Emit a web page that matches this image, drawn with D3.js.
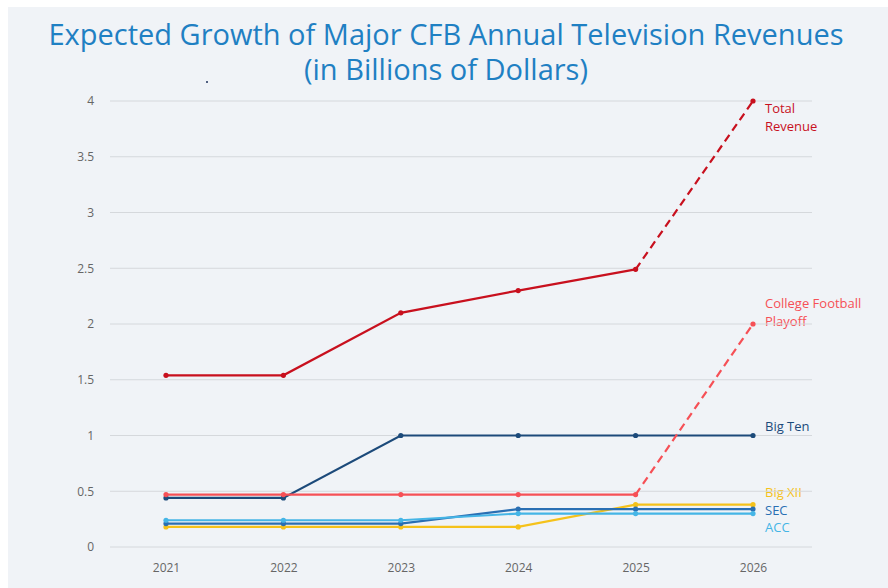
<!DOCTYPE html>
<html>
<head>
<meta charset="utf-8">
<script src="https://cdn.jsdelivr.net/npm/d3@7"></script>
<style>
  body { margin: 0; background: #fff; }
  svg { display: block; font-family: "Open Sans", "Noto Sans", sans-serif; }
</style>
</head>
<body>
<div class="chart"></div>
<script>
// data
var years = [2021, 2022, 2023, 2024, 2025, 2026];
var yTicks = [0, 0.5, 1, 1.5, 2, 2.5, 3, 3.5, 4];

var totalRevenue = [1.54, 1.54, 2.10, 2.30, 2.49, 4.0];
var collegePlayoff = [0.47, 0.47, 0.47, 0.47, 0.47, 2.0];
var bigTen = [0.44, 0.44, 1.0, 1.0, 1.0, 1.0];
var bigXII = [0.18, 0.18, 0.18, 0.18, 0.38, 0.38];
var sec = [0.21, 0.21, 0.21, 0.34, 0.34, 0.34];
var acc = [0.24, 0.24, 0.24, 0.30, 0.30, 0.30];

var series = [
    {name: ["Total", "Revenue"], values: totalRevenue, color: "#c8101e", dashLast: true},
    {name: ["College Football", "Playoff"], values: collegePlayoff, color: "#f65056", dashLast: true},
    {name: ["Big Ten"], values: bigTen, color: "#1c4a7a", dashLast: false},
    {name: ["ACC"], values: acc, color: "#45b5e6", dashLast: false},
    {name: ["SEC"], values: sec, color: "#2a6fb3", dashLast: false},
    {name: ["Big XII"], values: bigXII, color: "#f5c21b", dashLast: false}
];

// label offsets from the last point
var labelDy = {"Total": 12, "College Football": -16, "Big Ten": -5, "ACC": 18, "SEC": 6, "Big XII": -8};

var svgWidth = 888, svgHeight = 588;
var margin = {top: 101, right: 76, bottom: 41, left: 110};
var width = svgWidth - margin.left - margin.right;
var height = svgHeight - margin.top - margin.bottom;

var svg = d3.select(".chart").append("svg")
    .attr("width", svgWidth)
    .attr("height", svgHeight);

// panel background
svg.append("rect")
    .attr("x", 8).attr("y", 7)
    .attr("width", svgWidth - 8).attr("height", svgHeight - 7)
    .attr("fill", "#f0f3f7");

// title
var title = svg.append("text")
    .attr("text-anchor", "middle")
    .attr("fill", "#1f80c3")
    .style("font-size", "29px");
title.append("tspan").attr("x", 446).attr("y", 45).text("Expected Growth of Major CFB Annual Television Revenues");
title.append("tspan").attr("x", 446).attr("y", 80).text("(in Billions of Dollars)");

// stray dot
svg.append("circle").attr("cx", 207).attr("cy", 82).attr("r", 1).attr("fill", "#1c2f5a");

var chart = svg.append("g")
    .attr("transform", "translate(" + margin.left + "," + margin.top + ")");

var x = d3.scalePoint().domain(years).range([56, 643]);
var y = d3.scaleLinear().domain([0, 4]).range([height, 0]);

// end labels
series.forEach(function(s) {
    var last = s.values.length - 1;
    var t = chart.append("text")
        .attr("fill", s.color)
        .style("font-size", "13px");
    s.name.forEach(function(line, i) {
        t.append("tspan")
            .attr("x", x(years[last]) + 12)
            .attr("y", y(s.values[last]) + labelDy[s.name[0]] + i * 18)
            .text(line);
    });
});

// gridlines
chart.append("g")
    .selectAll("line")
    .data(yTicks)
    .enter().append("line")
    .attr("x1", 0).attr("x2", width)
    .attr("y1", function(d) { return y(d); })
    .attr("y2", function(d) { return y(d); })
    .attr("stroke", "#d5d8dc")
    .attr("stroke-width", 1);

// y axis labels
var leftAxis = d3.axisLeft(y).tickValues(yTicks).tickSize(0).tickPadding(16)
    .tickFormat(function(d) { return d; });
var yAxis = chart.append("g").call(leftAxis);
yAxis.select(".domain").remove();
yAxis.selectAll("text").attr("fill", "#666").style("font-size", "12px")
    .style("font-family", "'Open Sans', 'Noto Sans', sans-serif");

// x axis labels
var bottomAxis = d3.axisBottom(x).tickSize(0).tickPadding(16);
var xAxis = chart.append("g")
    .attr("transform", "translate(0," + height + ")")
    .call(bottomAxis);
xAxis.select(".domain").remove();
xAxis.selectAll("text").attr("fill", "#666").style("font-size", "12px")
    .style("font-family", "'Open Sans', 'Noto Sans', sans-serif");

var line = d3.line()
    .x(function(d) { return x(d.year); })
    .y(function(d) { return y(d.value); });

// draw lines, bottom series first
series.slice().reverse().forEach(function(s) {
    var pts = s.values.map(function(v, i) { return {year: years[i], value: v}; });
    var solid = s.dashLast ? pts.slice(0, pts.length - 1) : pts;
    chart.append("path")
        .datum(solid)
        .attr("d", line)
        .attr("fill", "none")
        .attr("stroke", s.color)
        .attr("stroke-width", 2.2);
    if (s.dashLast) {
        chart.append("path")
            .datum(pts.slice(pts.length - 2))
            .attr("d", line)
            .attr("fill", "none")
            .attr("stroke", s.color)
            .attr("stroke-width", 2.2)
            .attr("stroke-dasharray", "8,5");
    }
    chart.append("g")
        .selectAll("circle")
        .data(pts)
        .enter().append("circle")
        .attr("cx", function(d) { return x(d.year); })
        .attr("cy", function(d) { return y(d.value); })
        .attr("r", 2.6)
        .attr("fill", s.color);
});
</script>
</body>
</html>
